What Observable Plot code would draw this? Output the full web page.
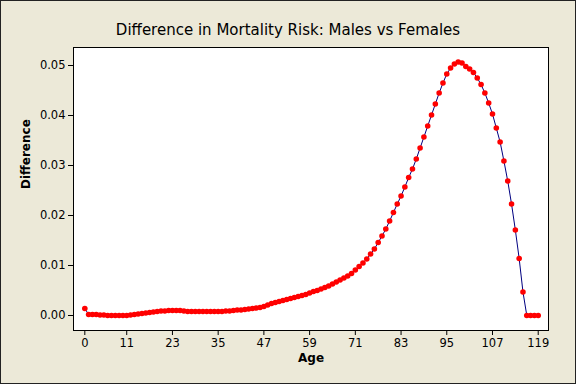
<!DOCTYPE html>
<html>
<head>
<meta charset="utf-8">
<script src="https://cdn.jsdelivr.net/npm/d3@7"></script>
<script src="https://cdn.jsdelivr.net/npm/@observablehq/plot@0.6"></script>
<style>
  html, body { margin: 0; padding: 0; background: #ECE9D8; }
  #wrap {
    width: 576px; height: 384px; box-sizing: border-box;
    border: 1px solid #222; background: #ECE9D8; overflow: hidden;
    font-family: "DejaVu Sans", sans-serif;
  }
  #title {
    height: 40px; line-height: 58px; text-align: center;
    font-size: 15px; color: #000; padding-left: 0px;
    font-family: "DejaVu Sans", sans-serif;
  }
  svg { display: block; }
</style>
</head>
<body>
<div id="wrap">
  <div id="title">Difference in Mortality Risk: Males vs Females</div>
  <div id="chart"></div>
</div>
<script>
const ages = d3.range(0, 120);
const diffs = [
  0.0014, 0.0002, 0.0002, 0.0002, 0.0001, 0.0001, 0.0000, 0.0000, 0.0000, 0.0000,
  0.0000, 0.0000, 0.0001, 0.0002, 0.0003, 0.0004, 0.0005, 0.0006, 0.0007, 0.0008,
  0.0009, 0.0009, 0.0010, 0.0010, 0.0010, 0.0010, 0.0009, 0.0008, 0.0008, 0.0008,
  0.0008, 0.0008, 0.0008, 0.0008, 0.0008, 0.0008, 0.0008, 0.0009, 0.0009, 0.0010,
  0.0011, 0.0011, 0.0012, 0.0013, 0.0014, 0.0015, 0.0016, 0.0018, 0.0021, 0.0024,
  0.0026, 0.0028, 0.0030, 0.0032, 0.0034, 0.0036, 0.0038, 0.0040, 0.0042, 0.0045,
  0.0048, 0.0050, 0.0053, 0.0056, 0.0059, 0.0063, 0.0067, 0.0071, 0.0075, 0.0079,
  0.0084, 0.0091, 0.0098, 0.0105, 0.0113, 0.0123, 0.0133, 0.0146, 0.0159, 0.0173,
  0.0189, 0.0206, 0.0223, 0.0239, 0.0257, 0.0276, 0.0293, 0.0313, 0.0335, 0.0357,
  0.0379, 0.0401, 0.0423, 0.0445, 0.0465, 0.0483, 0.0495, 0.0503, 0.0507, 0.0505,
  0.0498, 0.0493, 0.0486, 0.0475, 0.0462, 0.0445, 0.0425, 0.0403, 0.0375, 0.0347,
  0.0309, 0.0269, 0.0223, 0.0171, 0.0114, 0.0047, 0.0000, 0.0000, 0.0000, 0.0000
];
const xTicks = [0, 11, 23, 35, 47, 59, 71, 83, 95, 107, 119];
const yTicks = [0, 0.01, 0.02, 0.03, 0.04, 0.05];
const xLabel = "Age";
const yLabel = "Difference";

const data = ages.map((a, i) => ({age: a, diff: diffs[i]}));

const chart = Plot.plot({
  width: 574,
  height: 342,
  marginLeft: 72,
  marginRight: 27,
  marginTop: 6,
  marginBottom: 53,
  style: {background: "transparent", fontFamily: "DejaVu Sans, sans-serif", fontSize: "11.5px", color: "#000"},
  x: {domain: [-2.97, 121.7], label: null},
  y: {domain: [-0.003, 0.0536], label: null},
  marks: [
    Plot.frame({fill: "white", stroke: null}),
    Plot.axisX({ticks: xTicks, tickSize: 5, tickPadding: 3, label: null, tickFormat: d => String(d)}),
    Plot.axisY({ticks: yTicks, tickSize: 5, tickPadding: 3, label: null, tickFormat: d3.format(".2f")}),
    Plot.line(data, {x: "age", y: "diff", stroke: "#000080", strokeWidth: 1}),
    Plot.dot(data, {x: "age", y: "diff", r: 2.8, fill: "#FF0000", stroke: null}),
    Plot.frame({stroke: "#000", strokeWidth: 1}),
    Plot.text([xLabel], {frameAnchor: "bottom", dy: 31, text: d => d, fontWeight: "bold", fontSize: 12}),
    Plot.text([yLabel], {frameAnchor: "left", dx: -47, rotate: -90, text: d => d, fontWeight: "bold", fontSize: 12})
  ]
});
document.getElementById("chart").appendChild(chart);
</script>
</body>
</html>
